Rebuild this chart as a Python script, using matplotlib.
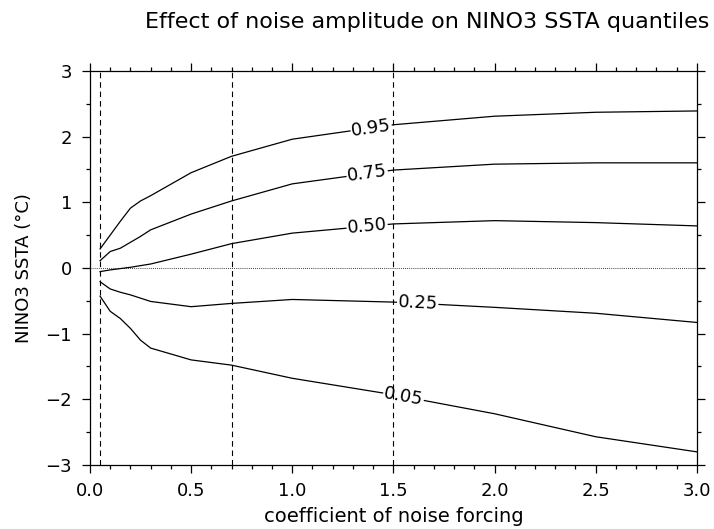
import matplotlib.pyplot as plt
import numpy as np

plt.rcParams['font.family'] = 'DejaVu Sans'

# noise forcing coefficient
coef = [0.05, 0.1, 0.15, 0.2, 0.25, 0.3, 0.5, 0.7, 1.0, 1.5, 2.0, 2.5, 3.0]

# NINO3 SSTA quantiles (degC)
q95 = [0.29, 0.50, 0.71, 0.91, 1.02, 1.10, 1.45, 1.70, 1.96, 2.18, 2.31, 2.37, 2.39]
q75 = [0.11, 0.25, 0.30, 0.39, 0.48, 0.58, 0.82, 1.02, 1.28, 1.49, 1.58, 1.60, 1.60]
q50 = [-0.056, -0.03, -0.01, 0.01, 0.035, 0.06, 0.21, 0.37, 0.53, 0.67, 0.72, 0.69, 0.64]
q25 = [-0.21, -0.32, -0.37, -0.41, -0.46, -0.51, -0.59, -0.54, -0.48, -0.52, -0.60, -0.69, -0.83]
q05 = [-0.43, -0.66, -0.77, -0.92, -1.10, -1.22, -1.40, -1.48, -1.68, -1.93, -2.22, -2.57, -2.80]

curves = [(q95, '0.95', 1.39), (q75, '0.75', 1.37), (q50, '0.50', 1.37),
          (q25, '0.25', 1.62), (q05, '0.05', 1.55)]

marks = [0.05, 0.7, 1.5]

fig = plt.figure(figsize=(7.14, 5.29), dpi=100)
ax = fig.add_axes([0.126, 0.121, 0.85, 0.745])

ax.set_xlim(0, 3)
ax.set_ylim(-3, 3)

ax.axhline(0, color='k', lw=0.6, ls=(0, (1, 1.5)), zorder=1)
for m in marks:
    ax.axvline(m, color='k', lw=0.8, ls=(0, (5, 3.5)), zorder=5)

for vals, lab, xl in curves:
    ax.plot(coef, vals, color='k', lw=0.9, zorder=2)
    yl = np.interp(xl, coef, vals)
    # local slope in screen units for the label angle
    p1 = ax.transData.transform((xl - 0.1, np.interp(xl - 0.1, coef, vals)))
    p2 = ax.transData.transform((xl + 0.1, np.interp(xl + 0.1, coef, vals)))
    ang = np.degrees(np.arctan2(p2[1] - p1[1], p2[0] - p1[0]))
    ax.text(xl, yl, lab, ha='center', va='center', fontsize=13, rotation=ang,
            rotation_mode='anchor', zorder=3,
            bbox=dict(fc='white', ec='none', pad=0.5))

ax.set_xticks(np.arange(0, 3.01, 0.5))
ax.set_xticks(np.arange(0, 3.01, 0.1), minor=True)
ax.set_yticks(np.arange(-3, 3.01, 1))
ax.set_yticks(np.arange(-3, 3.01, 0.5), minor=True)
ax.xaxis.set_major_formatter(plt.FormatStrFormatter('%.1f'))
ax.yaxis.set_major_formatter(plt.FuncFormatter(lambda v, p: '%d' % v if v >= 0 else '\u2212%d' % -v))
ax.tick_params(which='both', direction='out', top=True, right=True,
               labelsize=13, width=0.9)
ax.tick_params(which='major', length=6)
ax.tick_params(axis='x', which='major', pad=6)
ax.tick_params(axis='y', which='major', pad=7)
ax.tick_params(which='minor', length=3)
for s in ax.spines.values():
    s.set_linewidth(0.9)

ax.set_xlabel('coefficient of noise forcing', fontsize=14, labelpad=5)
ax.set_ylabel('NINO3 SSTA (\u00b0C)', fontsize=13, labelpad=9)
fig.text(0.598, 0.958, 'Effect of noise amplitude on NINO3 SSTA quantiles',
         ha='center', va='center', fontsize=16)

fig.savefig('out.png', dpi=100)
